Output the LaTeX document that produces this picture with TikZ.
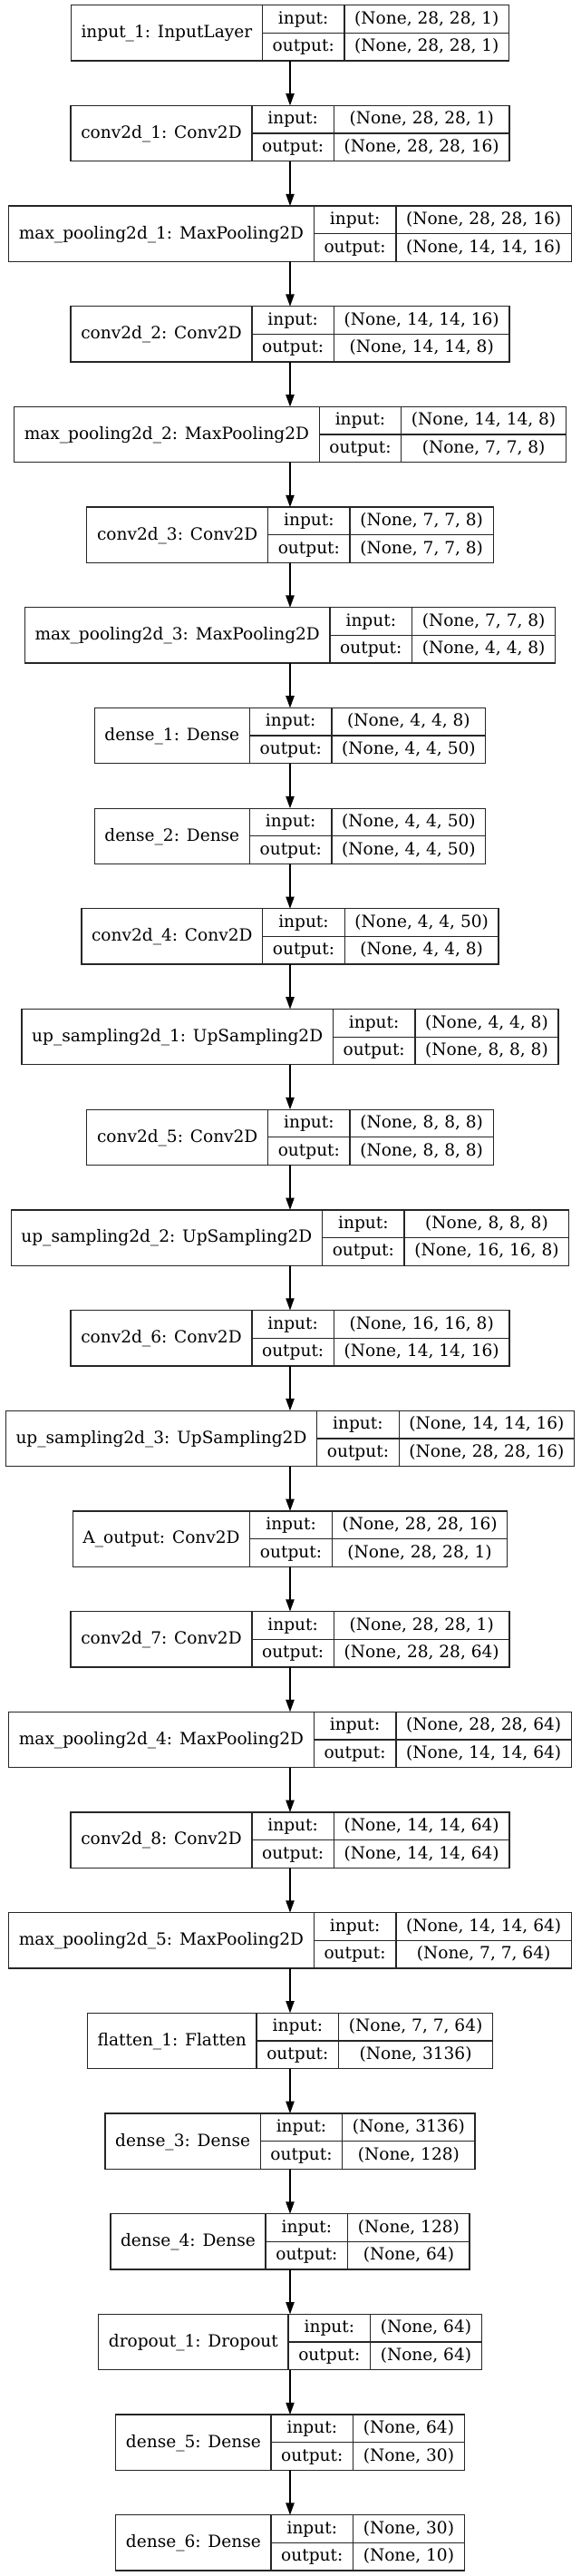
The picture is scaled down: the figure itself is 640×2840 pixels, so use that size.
\documentclass[tikz,border=0pt]{standalone}
\usepackage{fontspec}
\newfontfamily\lbf{DejaVu Serif}
\usetikzlibrary{arrows.meta}
\newdimen\wl \newdimen\wio \newdimen\wv \newdimen\wtmp
\newcommand\lf{\lbf\fontsize{18.56}{22}\selectfont}
\newcommand\measurewd[2]{\setbox0=\hbox{\pgfinterruptpicture\lf #2\endpgfinterruptpicture}#1=\wd0 }
\tikzset{
 box/.style={draw=black!85, line width=1.3pt, inner sep=0pt, outer sep=0pt, minimum height=61.3pt},
 divider/.style={draw=black!85, line width=1.3pt},
 txt/.style={inner sep=0pt, anchor=base, font=\lf},
 arr/.style={draw=black, line width=1.3pt, -{Triangle[length=13.3pt,width=9.3pt]}},
}
\newcommand\layer[5]{%
 \measurewd\wl{#3}\advance\wl by 22.4pt
 \measurewd\wio{output:}\advance\wio by 22.4pt
 \measurewd\wv{#4}\measurewd\wtmp{#5}%
 \ifdim\wtmp>\wv \wv=\wtmp\fi \advance\wv by 22.4pt
 \pgfmathsetmacro\yt{5.7+#2*110.68}%
 \pgfmathsetmacro\tw{\the\wl+\the\wio+\the\wv}%
 \pgfmathsetmacro\xa{320-\tw/2}%
 \pgfmathsetmacro\xb{\xa+\the\wl}%
 \pgfmathsetmacro\xc{\xb+\the\wio}%
 \pgfmathsetmacro\xd{\xc+\the\wv}%
 \node[box, anchor=north west, minimum width=\tw pt] (#1) at (\xa,\yt) {};
 \draw[divider] (\xb,\yt) -- (\xb,\yt+61.3);
 \draw[divider] (\xc,\yt) -- (\xc,\yt+61.3);
 \draw[divider] (\xb,\yt+30.65) -- (\xd,\yt+30.65);
 \node[txt] (#1-l) at ({(\xa+\xb)/2},\yt+36.0) {#3};
 \node[txt] (#1-i) at ({(\xb+\xc)/2},\yt+20.5) {input:};
 \node[txt] (#1-o) at ({(\xb+\xc)/2},\yt+51.1) {output:};
 \node[txt] (#1-vi) at ({(\xc+\xd)/2},\yt+20.5) {#4};
 \node[txt] (#1-vo) at ({(\xc+\xd)/2},\yt+51.1) {#5};
}
\begin{document}
\begin{tikzpicture}[x=1pt,y=-1pt]
\useasboundingbox[fill=white] (0,0) rectangle (640,2840);
\layer{L1}{0}{input\_1: InputLayer}{(None, 28, 28, 1)}{(None, 28, 28, 1)}
\layer{L2}{1}{conv2d\_1: Conv2D}{(None, 28, 28, 1)}{(None, 28, 28, 16)}
\layer{L3}{2}{max\_pooling2d\_1: MaxPooling2D}{(None, 28, 28, 16)}{(None, 14, 14, 16)}
\layer{L4}{3}{conv2d\_2: Conv2D}{(None, 14, 14, 16)}{(None, 14, 14, 8)}
\layer{L5}{4}{max\_pooling2d\_2: MaxPooling2D}{(None, 14, 14, 8)}{(None, 7, 7, 8)}
\layer{L6}{5}{conv2d\_3: Conv2D}{(None, 7, 7, 8)}{(None, 7, 7, 8)}
\layer{L7}{6}{max\_pooling2d\_3: MaxPooling2D}{(None, 7, 7, 8)}{(None, 4, 4, 8)}
\layer{L8}{7}{dense\_1: Dense}{(None, 4, 4, 8)}{(None, 4, 4, 50)}
\layer{L9}{8}{dense\_2: Dense}{(None, 4, 4, 50)}{(None, 4, 4, 50)}
\layer{L10}{9}{conv2d\_4: Conv2D}{(None, 4, 4, 50)}{(None, 4, 4, 8)}
\layer{L11}{10}{up\_sampling2d\_1: UpSampling2D}{(None, 4, 4, 8)}{(None, 8, 8, 8)}
\layer{L12}{11}{conv2d\_5: Conv2D}{(None, 8, 8, 8)}{(None, 8, 8, 8)}
\layer{L13}{12}{up\_sampling2d\_2: UpSampling2D}{(None, 8, 8, 8)}{(None, 16, 16, 8)}
\layer{L14}{13}{conv2d\_6: Conv2D}{(None, 16, 16, 8)}{(None, 14, 14, 16)}
\layer{L15}{14}{up\_sampling2d\_3: UpSampling2D}{(None, 14, 14, 16)}{(None, 28, 28, 16)}
\layer{L16}{15}{A\_output: Conv2D}{(None, 28, 28, 16)}{(None, 28, 28, 1)}
\layer{L17}{16}{conv2d\_7: Conv2D}{(None, 28, 28, 1)}{(None, 28, 28, 64)}
\layer{L18}{17}{max\_pooling2d\_4: MaxPooling2D}{(None, 28, 28, 64)}{(None, 14, 14, 64)}
\layer{L19}{18}{conv2d\_8: Conv2D}{(None, 14, 14, 64)}{(None, 14, 14, 64)}
\layer{L20}{19}{max\_pooling2d\_5: MaxPooling2D}{(None, 14, 14, 64)}{(None, 7, 7, 64)}
\layer{L21}{20}{flatten\_1: Flatten}{(None, 7, 7, 64)}{(None, 3136)}
\layer{L22}{21}{dense\_3: Dense}{(None, 3136)}{(None, 128)}
\layer{L23}{22}{dense\_4: Dense}{(None, 128)}{(None, 64)}
\layer{L24}{23}{dropout\_1: Dropout}{(None, 64)}{(None, 64)}
\layer{L25}{24}{dense\_5: Dense}{(None, 64)}{(None, 30)}
\layer{L26}{25}{dense\_6: Dense}{(None, 30)}{(None, 10)}
\foreach \a/\b in {1/2,2/3,3/4,4/5,5/6,6/7,7/8,8/9,9/10,10/11,11/12,12/13,13/14,14/15,15/16,16/17,17/18,18/19,19/20,20/21,21/22,22/23,23/24,24/25,25/26}
  \draw[arr] (L\a.south) -- (L\b.north);
\end{tikzpicture}
\end{document}
